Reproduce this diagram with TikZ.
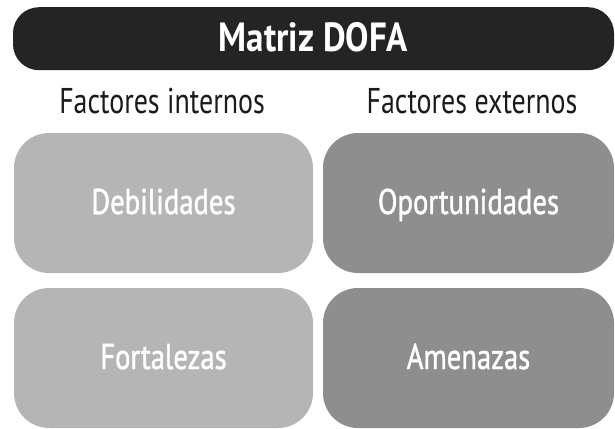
\documentclass[tikz,border=0pt]{standalone}
\usepackage{fontspec}
\setmainfont{PT Sans}[FakeStretch=0.8]
\newfontfamily\titlefont{PT Sans Bold}[FakeStretch=0.86]
\newfontfamily\headfont{PT Sans}[FakeStretch=0.78]
\newfontfamily\boxfont{PT Sans}[FakeStretch=0.8,FakeBold=1.2]
\definecolor{barcol}{HTML}{242424}
\definecolor{lightbox}{HTML}{B5B5B5}
\definecolor{darkbox}{HTML}{8E8E8E}
\definecolor{headcol}{HTML}{1A1A1A}
\begin{document}
\begin{tikzpicture}[x=1pt,y=-1pt,
  titlebar/.style={fill=barcol, draw=none, rounded corners=26pt, minimum width=601pt, minimum height=63pt,
    text=white, font=\titlefont\fontsize{40.7}{41}\selectfont, text height=25pt, text depth=0pt, inner sep=0pt},
  header/.style={text=headcol, font=\headfont\fontsize{35.8}{36}\selectfont, anchor=base, inner sep=0pt},
  quad/.style={draw=none, rounded corners=35pt, minimum width=#1, minimum height=140pt,
    text=white, font=\boxfont\fontsize{35.8}{36}\selectfont, text height=22pt, text depth=0pt, inner sep=0pt},
  lightquad/.style={quad=299pt, fill=lightbox},
  darkquad/.style={quad=291pt, fill=darkbox}
]
\useasboundingbox (0,0) rectangle (615,428);
\node[titlebar] (title) at (313.5,38.7) {Matriz DOFA};
\node[header] (hint) at (162,113) {Factores internos};
\node[header] (hext) at (472,113) {Factores externos};
\node[lightquad] (deb) at (163.5,203) {Debilidades};
\node[darkquad] (opo) at (468.5,203) {Oportunidades};
\node[lightquad] (fort) at (163.5,358) {Fortalezas};
\node[darkquad] (ame) at (468.5,358) {Amenazas};
\end{tikzpicture}
\end{document}
